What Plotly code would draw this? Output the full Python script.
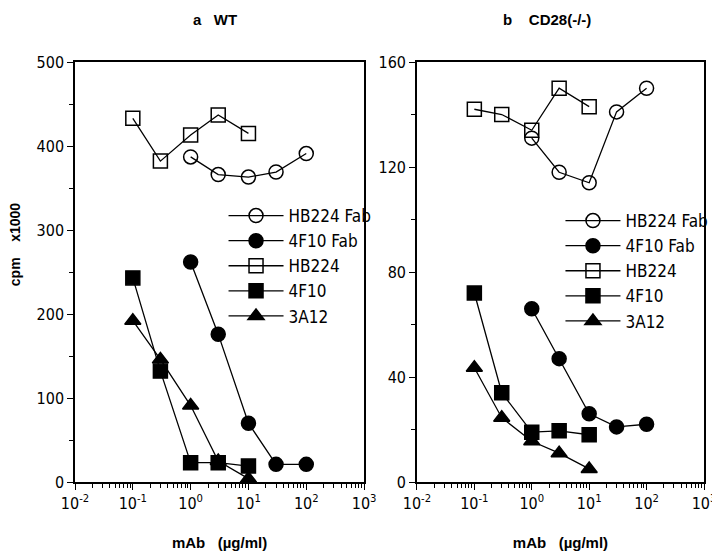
import plotly.graph_objects as go

# ---------------- data ----------------
conc_low = [0.1, 0.3, 1, 3, 10]        # µg/ml, whole mAb series
conc_high = [1, 3, 10, 30, 100]        # µg/ml, Fab series

# panel a (WT), cpm x1000
wt_hb224_fab = [387, 366, 363, 369, 391]
wt_4f10_fab = [262, 176, 70, 21, 21]
wt_hb224 = [433, 382, 413, 437, 415]
wt_4f10 = [243, 132, 23, 23, 19]
wt_3a12 = [192, 146, 91, 25, 4]

# panel b (CD28-/-), cpm x1000
ko_hb224_fab = [131, 118, 114, 141, 150]
ko_4f10_fab = [66, 47, 26, 21, 22]
ko_hb224 = [142, 140, 134, 150, 143]
ko_4f10 = [72, 34, 19, 19.5, 18]
ko_3a12 = [43.5, 24.5, 15.5, 11, 5]

series_names = ["HB224 Fab", "4F10 Fab", "HB224", "4F10", "3A12"]
x_tick_vals = [0.01, 0.1, 1, 10, 100, 1000]
x_tick_text = ["10<sup>-2</sup>", "10<sup>-1</sup>", "10<sup>0</sup>",
               "10<sup>1</sup>", "10<sup>2</sup>", "10<sup>3</sup>"]
panel_titles = ["a   WT", "b    CD28(-/-)"]
x_title = "mAb   (µg/ml)"
y_title = "cpm    x1000"

# ---------------- styling ----------------
NARROW = "DejaVu Sans Condensed, Liberation Sans Narrow, Liberation Sans, Arial, sans-serif"
BOLDF = "Liberation Sans, Arial, sans-serif"
styles = [
    dict(symbol="circle-open", size=14),
    dict(symbol="circle", size=14),
    dict(symbol="square-open", size=14),
    dict(symbol="square", size=14),
    dict(symbol="triangle-up", size=14),
]

fig = go.Figure()

panels = [
    ("x", "y", "legend", [conc_high, conc_high, conc_low, conc_low, conc_low],
     [wt_hb224_fab, wt_4f10_fab, wt_hb224, wt_4f10, wt_3a12]),
    ("x2", "y2", "legend2", [conc_high, conc_high, conc_low, conc_low, conc_low],
     [ko_hb224_fab, ko_4f10_fab, ko_hb224, ko_4f10, ko_3a12]),
]
for xa, ya, lg, xs, ys in panels:
    for name, st, xv, yv in zip(series_names, styles, xs, ys):
        fig.add_trace(go.Scatter(
            x=xv, y=yv, name=name, mode="lines+markers",
            xaxis=xa, yaxis=ya, legend=lg,
            line=dict(color="black", width=1.3),
            marker=dict(symbol=st["symbol"], size=st["size"], color="black",
                        line=dict(color="black", width=1.5)),
        ))

minor_x = [k * 10 ** d for d in range(-2, 3) for k in range(2, 10)]

def xaxis_cfg(domain, anchor):
    return dict(
        type="log", range=[-2, 3], domain=domain, anchor=anchor,
        tickmode="array", tickvals=x_tick_vals, ticktext=x_tick_text,
        ticks="outside", ticklen=6, tickwidth=1.2, tickcolor="black",
        minor=dict(tickmode="array", tickvals=minor_x, ticks="outside",
                   ticklen=4, tickwidth=1, tickcolor="black", showgrid=False),
        showline=True, linecolor="black", linewidth=1.5, mirror=True,
        showgrid=False, zeroline=False,
        tickfont=dict(family=NARROW, size=16, color="black"),
        title=dict(text=x_title,
                   font=dict(family=BOLDF, size=15, color="black", weight="bold"),
                   standoff=26),
    )

def yaxis_cfg(top, step, anchor):
    minor_vals = [step / 2 + i * step for i in range(int(top / step))]
    return dict(
        range=[0, top], tickmode="array",
        tickvals=[i * step for i in range(int(top / step) + 1)], anchor=anchor,
        ticks="outside", ticklen=6, tickwidth=1.2, tickcolor="black",
        minor=dict(tickmode="array", tickvals=minor_vals, ticks="outside",
                   ticklen=4, tickwidth=1, tickcolor="black", showgrid=False),
        showline=True, linecolor="black", linewidth=1.5, mirror=True,
        showgrid=False, zeroline=False,
        tickfont=dict(family=NARROW, size=16, color="black"),
    )

legend_common = dict(
    font=dict(family=NARROW, size=17, color="black"),
    bgcolor="rgba(0,0,0,0)", borderwidth=0, xanchor="left", yanchor="top",
    tracegroupgap=0, itemclick=False, itemwidth=55,
)

# the page adds an 8px body margin; plot area should span x 75..706, y 62..482
W = 706 - 75
H = 482 - 62
def px(xp):
    return (xp - 75) / W
def py(yp):
    return (482 - yp) / H

fig.update_layout(
    width=720, height=557,
    margin=dict(l=67, r=22, t=54, b=83),
    paper_bgcolor="white", plot_bgcolor="white",
    xaxis=xaxis_cfg([0, 0.4596], "y"),
    yaxis=yaxis_cfg(500, 100, "x"),
    xaxis2=xaxis_cfg([0.5436, 1], "y2"),
    yaxis2=yaxis_cfg(160, 40, "x2"),
    legend=dict(x=px(224), y=py(198), **legend_common),
    legend2=dict(x=px(562), y=py(203), **legend_common),
    showlegend=True,
    annotations=[
        dict(text=panel_titles[0], x=px(215), y=py(9), xref="paper", yref="paper",
             xanchor="center", yanchor="top", showarrow=False,
             font=dict(family=BOLDF, size=15, color="black", weight="bold")),
        dict(text=panel_titles[1], x=px(548), y=py(9), xref="paper", yref="paper",
             xanchor="center", yanchor="top", showarrow=False,
             font=dict(family=BOLDF, size=15, color="black", weight="bold")),
        dict(text=y_title, textangle=-90, x=px(15), y=py(245),
             xref="paper", yref="paper", xanchor="center", yanchor="middle",
             showarrow=False,
             font=dict(family=BOLDF, size=14, color="black", weight="bold")),
    ],
)

fig.write_html("out.html")
